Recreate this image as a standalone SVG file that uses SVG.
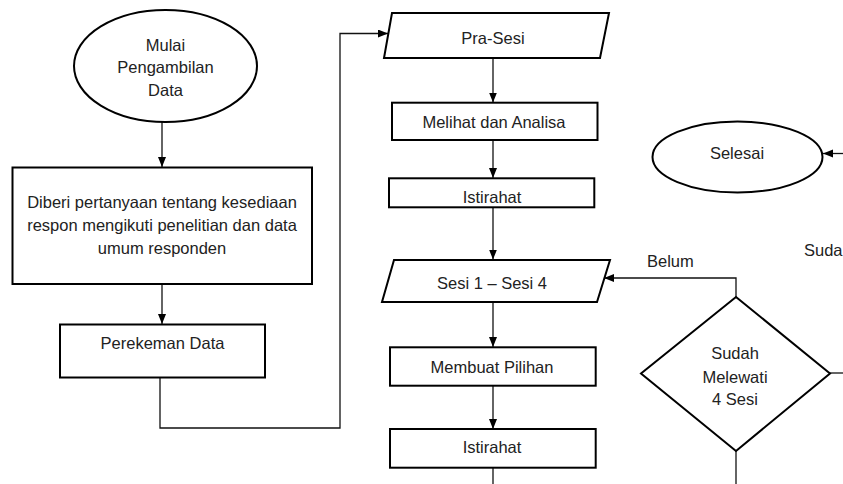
<svg xmlns="http://www.w3.org/2000/svg" width="843" height="484" viewBox="0 0 843 484">
<style>
.n{fill:#fff;stroke:#000;stroke-width:2}
.t{font-family:"Liberation Sans",Arial,sans-serif;font-size:16.5px;fill:#222;text-anchor:middle}
.l{font-family:"Liberation Sans",Arial,sans-serif;font-size:16.5px;fill:#222}
.c{fill:none;stroke:#111;stroke-width:1.3}
</style>
<defs>
<marker id="ah" markerUnits="userSpaceOnUse" markerWidth="11" markerHeight="9" refX="10" refY="4" orient="auto">
<path d="M0,0 L10,4 L0,8 z" fill="#000"/>
</marker>
</defs>
<rect width="843" height="484" fill="#fff"/>
<g id="connectors">
<path class="c" d="M162,122 V167" marker-end="url(#ah)"/>
<path class="c" d="M162,284 V324" marker-end="url(#ah)"/>
<path class="c" d="M160,378 V428 H340 V33.5 H388" marker-end="url(#ah)"/>
<path class="c" d="M493,58 V102.5" marker-end="url(#ah)"/>
<path class="c" d="M493,140 V178" marker-end="url(#ah)"/>
<path class="c" d="M493,207.5 V259.5" marker-end="url(#ah)"/>
<path class="c" d="M493,302 V347" marker-end="url(#ah)"/>
<path class="c" d="M493,386 V429" marker-end="url(#ah)"/>
<path class="c" d="M493,468 V484"/>
<path class="c" d="M736,297 V278 H604" marker-end="url(#ah)"/>
<path class="c" d="M830,373 H843"/>
<path class="c" d="M736,451 V484"/>
<path class="c" d="M843,153.5 H823" marker-end="url(#ah)"/>
</g>
<g id="mulai">
<ellipse class="n" cx="165.5" cy="66" rx="91.5" ry="56"/>
<text class="t" x="165.5" y="50.5">Mulai</text>
<text class="t" x="165.5" y="73">Pengambilan</text>
<text class="t" x="165.5" y="95.5">Data</text>
</g>
<g id="diberi">
<rect class="n" x="12.5" y="167.5" width="299.5" height="116.5"/>
<text class="t" x="162" y="208">Diberi pertanyaan tentang kesediaan</text>
<text class="t" x="162" y="231">respon mengikuti penelitian dan data</text>
<text class="t" x="162" y="254">umum responden</text>
</g>
<g id="perekeman">
<rect class="n" x="60" y="324.5" width="205" height="53"/>
<text class="t" x="162.5" y="349">Perekeman Data</text>
</g>
<g id="prasesi">
<polygon class="n" points="392,13 609,13 600,58 384,58"/>
<text class="t" x="493" y="44">Pra-Sesi</text>
</g>
<g id="melihat">
<rect class="n" x="392" y="102.7" width="205.5" height="37.3"/>
<text class="t" x="494" y="128">Melihat dan Analisa</text>
</g>
<g id="istirahat1">
<rect class="n" x="389" y="178.3" width="205.3" height="29"/>
<text class="t" x="492" y="203">Istirahat</text>
</g>
<g id="sesi">
<polygon class="n" points="394,260 610,260 597,302 382,302"/>
<text class="t" x="492" y="288.5">Sesi 1 – Sesi 4</text>
</g>
<g id="membuat">
<rect class="n" x="390" y="347.3" width="205.7" height="38.4"/>
<text class="t" x="492" y="373">Membuat Pilihan</text>
</g>
<g id="istirahat2">
<rect class="n" x="390" y="429" width="205.7" height="38.7"/>
<text class="t" x="492" y="453">Istirahat</text>
</g>
<g id="selesai">
<ellipse class="n" cx="737.5" cy="157" rx="85" ry="35.5"/>
<text class="t" x="737" y="159">Selesai</text>
</g>
<g id="keputusan">
<polygon class="n" points="736,297 830,373.5 736,451 641,373.5"/>
<text class="t" x="735" y="359">Sudah</text>
<text class="t" x="735" y="382.5">Melewati</text>
<text class="t" x="735" y="405">4 Sesi</text>
</g>
<g id="labels">
<text class="l" x="647" y="266.5">Belum</text>
<text class="l" x="804" y="256">Sudah</text>
</g>
</svg>
